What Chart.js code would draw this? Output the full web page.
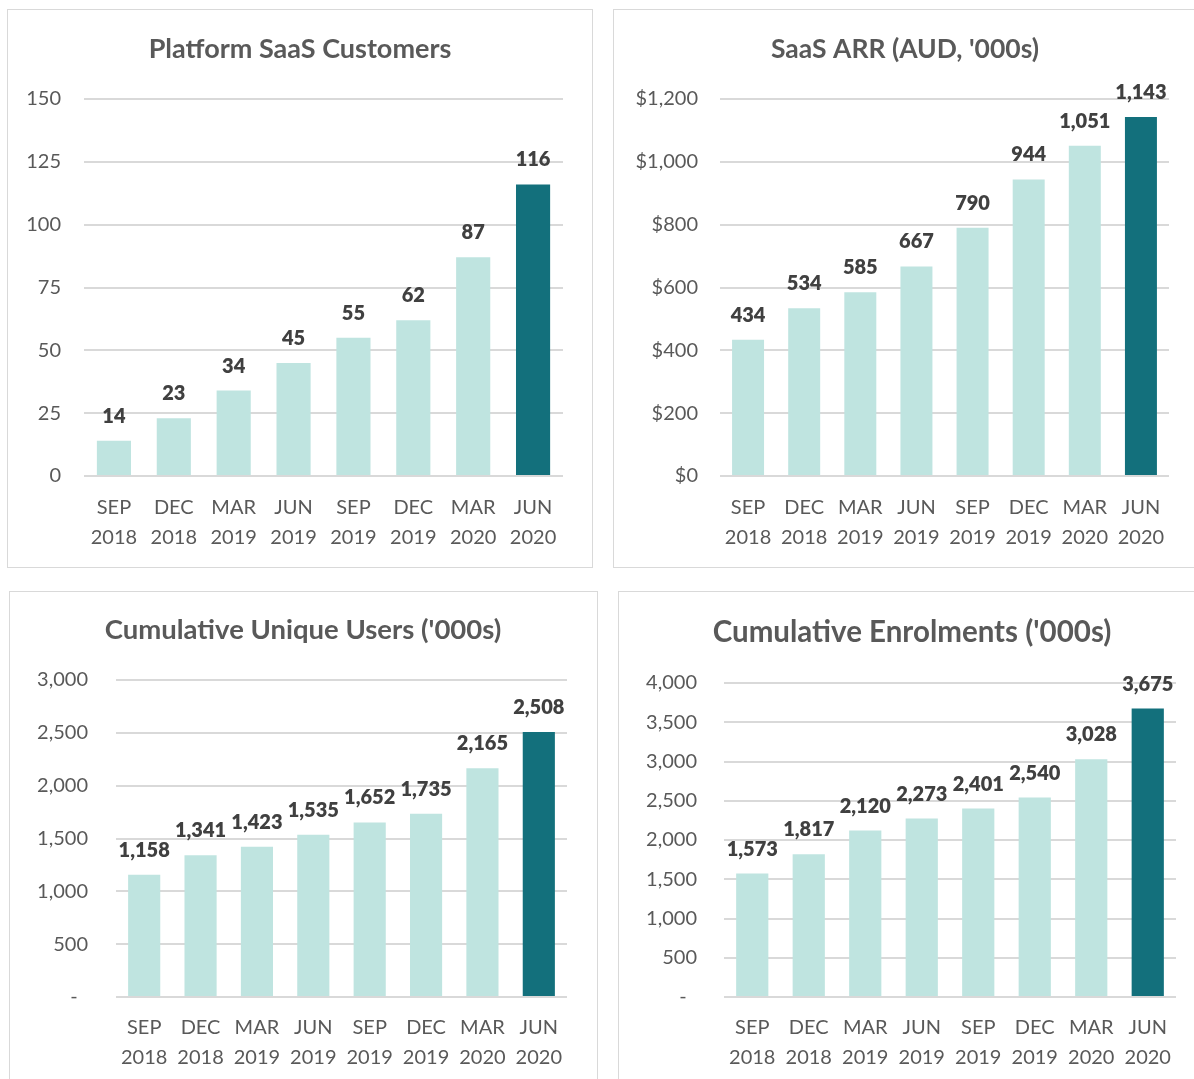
<!DOCTYPE html>
<html>
<head>
<meta charset="utf-8">
<script src="https://cdn.jsdelivr.net/npm/chart.js@4/dist/chart.umd.min.js"></script>
<style>
  html, body { margin: 0; padding: 0; background: #ffffff; }
  body { width: 1194px; height: 1079px; position: relative; overflow: hidden; }
  .box { position: absolute; border: 1.5px solid #D9D9D9; box-sizing: border-box; }
  .cv { position: absolute; }
</style>
</head>
<body>
<div class="box" style="left:7px;top:9px;width:586px;height:559px;"></div>
<div class="box" style="left:613px;top:9px;width:590px;height:559px;"></div>
<div class="box" style="left:9px;top:591px;width:589px;height:500px;"></div>
<div class="box" style="left:618px;top:591px;width:590px;height:500px;"></div>
<div class="cv" style="left:7px;top:9px;width:586px;height:559px;"><canvas id="c1"></canvas></div>
<div class="cv" style="left:613px;top:9px;width:581px;height:559px;"><canvas id="c2"></canvas></div>
<div class="cv" style="left:9px;top:591px;width:589px;height:488px;"><canvas id="c3"></canvas></div>
<div class="cv" style="left:618px;top:591px;width:576px;height:488px;"><canvas id="c4"></canvas></div>
<script>
const categories = [["SEP","2018"],["DEC","2018"],["MAR","2019"],["JUN","2019"],["SEP","2019"],["DEC","2019"],["MAR","2020"],["JUN","2020"]];
const customers = [14, 23, 34, 45, 55, 62, 87, 116];
const arr = [434, 534, 585, 667, 790, 944, 1051, 1143];
const uniqueUsers = [1158, 1341, 1423, 1535, 1652, 1735, 2165, 2508];
const enrolments = [1573, 1817, 2120, 2273, 2401, 2540, 3028, 3675];
const titles = ["Platform SaaS Customers", "SaaS ARR (AUD, '000s)", "Cumulative Unique Users ('000s)", "Cumulative Enrolments ('000s)"];

const LIGHT = '#BFE4E0';
const DARK = '#13707C';
const FONT = 'Lato, Carlito, Calibri, sans-serif';

function fmt(v) { return v.toLocaleString('en-US'); }

const valueLabels = {
  id: 'valueLabels',
  afterDatasetsDraw(chart) {
    const ctx = chart.ctx;
    const meta = chart.getDatasetMeta(0);
    const data = chart.data.datasets[0].data;
    ctx.save();
    ctx.font = '800 20px ' + FONT;
    ctx.fillStyle = '#404040';
    ctx.textAlign = 'center';
    ctx.textBaseline = 'alphabetic';
    meta.data.forEach((bar, i) => {
      ctx.fillText(fmt(data[i]), bar.x, bar.y - 18);
    });
    ctx.restore();
  }
};

const titlePlugin = {
  id: 'panelTitle',
  afterDraw(chart) {
    const o = chart.options.plugins.panelTitle;
    const ctx = chart.ctx;
    ctx.save();
    ctx.font = 'bold ' + o.size + 'px ' + FONT;
    ctx.fillStyle = '#595959';
    ctx.textAlign = 'center';
    ctx.textBaseline = 'middle';
    ctx.fillText(o.text, o.x, o.y);
    ctx.restore();
  }
};

function makeChart(id, cfg) {
  const data = cfg.values;
  const colors = data.map((v, i) => i === data.length - 1 ? DARK : LIGHT);
  return new Chart(document.getElementById(id), {
    type: 'bar',
    data: {
      labels: categories,
      datasets: [{ data: data, backgroundColor: colors, borderWidth: 0,
                   barPercentage: 0.57, categoryPercentage: 1.0 }]
    },
    options: {
      responsive: true,
      maintainAspectRatio: false,
      animation: false,
      events: [],
      layout: { padding: { left: 0, top: cfg.top, right: cfg.right, bottom: 0 } },
      plugins: {
        legend: { display: false },
        tooltip: { enabled: false },
        title: { display: false },
        panelTitle: { text: cfg.title, x: cfg.titleX, y: cfg.titleY, size: cfg.titleSize }
      },
      scales: {
        x: {
          grid: { display: false, drawTicks: false },
          border: { display: false },
          ticks: { color: '#595959', font: { family: FONT, size: 20, lineHeight: 1.47 },
                   padding: cfg.xPad, maxRotation: 0, autoSkip: false },
          afterFit(s) { s.height = cfg.xHeight; }
        },
        y: {
          min: 0, max: cfg.max,
          grid: { color: '#D9D9D9', lineWidth: 2, drawTicks: false },
          border: { display: false },
          ticks: { stepSize: cfg.step, color: '#595959', font: { family: FONT, size: 20 },
                   padding: cfg.yPad, callback: cfg.tick },
          afterFit(s) { s.width = cfg.left; }
        }
      }
    },
    plugins: [valueLabels, titlePlugin]
  });
}

makeChart('c1', { values: customers, title: titles[0], titleX: 293, titleY: 40, titleSize: 27,
  max: 150, step: 25, tick: v => fmt(v),
  left: 77, top: 90, right: 30, xHeight: 92, xPad: 17, yPad: 23 });
makeChart('c2', { values: arr, title: titles[1], titleX: 292, titleY: 40, titleSize: 26.5,
  max: 1200, step: 200, tick: v => '$' + fmt(v),
  left: 107, top: 90, right: 25, xHeight: 92, xPad: 17, yPad: 22 });
makeChart('c3', { values: uniqueUsers, title: titles[2], titleX: 294, titleY: 39, titleSize: 27.5,
  max: 3000, step: 500, tick: v => v === 0 ? '-  ' : fmt(v),
  left: 107, top: 89, right: 31, xHeight: 82, xPad: 16, yPad: 28 });
makeChart('c4', { values: enrolments, title: titles[3], titleX: 294, titleY: 41, titleSize: 29.5,
  max: 4000, step: 500, tick: v => v === 0 ? '-  ' : fmt(v),
  left: 106, top: 92, right: 18, xHeight: 82, xPad: 16, yPad: 27 });
</script>
</body>
</html>
